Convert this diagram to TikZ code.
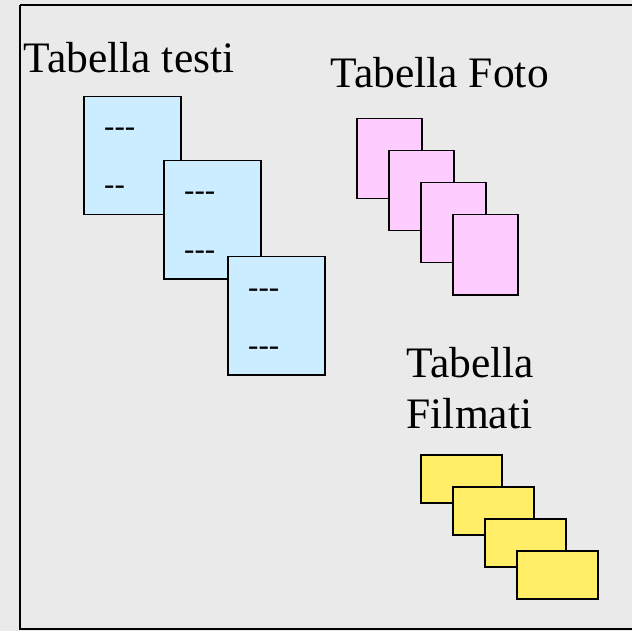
\documentclass[tikz,border=0pt]{standalone}
\usepackage{fontspec}
\setmainfont{Liberation Serif}
\definecolor{bg}{HTML}{EAEAEA}
\definecolor{bluef}{HTML}{CCECFF}
\definecolor{pinkf}{HTML}{FFCCFF}
\definecolor{yellf}{HTML}{FFEE66}
\tikzset{
  card/.style={draw=black, line width=1.5pt, inner sep=0pt, anchor=north west},
  bluebox/.style={card, fill=bluef, minimum width=97pt, minimum height=118pt},
  pinkbox/.style={card, fill=pinkf, minimum width=65pt, minimum height=80pt},
  yellbox/.style={card, fill=yellf, minimum width=81pt, minimum height=48pt},
  title/.style={anchor=base west, inner sep=0pt, font=\fontsize{43.5pt}{50pt}\selectfont},
  dashtxt/.style={anchor=base west, inner sep=0pt, font=\fontsize{31pt}{36pt}\selectfont},
}
\begin{document}
\begin{tikzpicture}[x=1pt,y=-1pt]
\useasboundingbox (0,0) rectangle (632,631);
\fill[bg] (0,0) rectangle (632,631);
\begin{scope}
\clip (0,0) rectangle (632,631);
\draw[line width=2pt] (20,5) -- (650,5) (20,5) -- (20,629) -- (650,629);
\end{scope}
\node[title] (t1) at (23.5,73) {Tabella testi};
\node[title] (t2) at (330.5,88) {Tabella Foto};
\node[title] (t3) at (406.5,377) {Tabella};
\node[title] (t4) at (406.5,428) {Filmati};
% blue
\node[bluebox] (b1) at (83,96) {};
\node[dashtxt] (d1a) at (104,137) {-{}-{}-};
\node[dashtxt] (d1b) at (104,195) {-{}-};
\node[bluebox] (b2) at (163,160) {};
\node[dashtxt] (d2a) at (184,201) {-{}-{}-};
\node[dashtxt] (d2b) at (184,259) {-{}-{}-};
\node[bluebox] (b3) at (227,256) {};
\node[dashtxt] (d3a) at (248,297) {-{}-{}-};
\node[dashtxt] (d3b) at (248,355) {-{}-{}-};
% pink
\node[pinkbox] (p1) at (356,118) {};
\node[pinkbox] (p2) at (388,150) {};
\node[pinkbox] (p3) at (420,182) {};
\node[pinkbox] (p4) at (452,214) {};
% yellow
\node[yellbox] (y1) at (420,454) {};
\node[yellbox] (y2) at (452,486) {};
\node[yellbox] (y3) at (484,518) {};
\node[yellbox] (y4) at (516,550) {};
\end{tikzpicture}
\end{document}
